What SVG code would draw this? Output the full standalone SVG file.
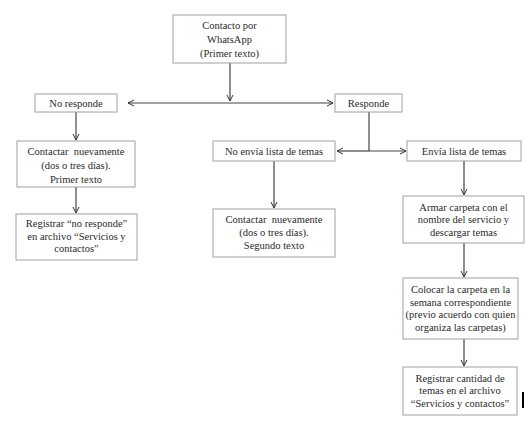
<svg xmlns="http://www.w3.org/2000/svg" width="531" height="430" viewBox="0 0 531 430">
<defs>
<marker id="ah" markerWidth="8" markerHeight="8" refX="7" refY="4" orient="auto" markerUnits="userSpaceOnUse">
<path d="M1,1 L7,4 L1,7" fill="none" stroke="#333" stroke-width="1"/>
</marker>
<style>
.box{fill:#fff;stroke:#a0a0a0;stroke-width:1}
.t{font-family:'Liberation Serif','Times New Roman',Times,serif;font-size:10.5px;fill:#2a2a2a;text-anchor:middle}
.c{fill:none;stroke:#444;stroke-width:1.2}
</style>
</defs>
<rect width="531" height="430" fill="#fff"/>
<g id="connectors">
<line class="c" x1="230" y1="63" x2="230" y2="101" marker-end="url(#ah)"/>
<line class="c" x1="230" y1="103" x2="128" y2="103" marker-end="url(#ah)"/>
<line class="c" x1="230" y1="103" x2="333" y2="103" marker-end="url(#ah)"/>
<line class="c" x1="76" y1="112" x2="76" y2="140" marker-end="url(#ah)"/>
<line class="c" x1="76" y1="187" x2="76" y2="213" marker-end="url(#ah)"/>
<line class="c" x1="369" y1="112" x2="369" y2="151"/>
<line class="c" x1="369" y1="151" x2="337" y2="151" marker-end="url(#ah)"/>
<line class="c" x1="369" y1="151" x2="406" y2="151" marker-end="url(#ah)"/>
<line class="c" x1="274" y1="161" x2="274" y2="208" marker-end="url(#ah)"/>
<line class="c" x1="464" y1="161" x2="464" y2="195" marker-end="url(#ah)"/>
<line class="c" x1="464" y1="243" x2="464" y2="277" marker-end="url(#ah)"/>
<line class="c" x1="464" y1="339" x2="464" y2="366" marker-end="url(#ah)"/>
</g>
<g id="contacto">
<rect class="box" x="173" y="15" width="113" height="48"/>
<text class="t" x="229.5" y="29">Contacto por</text>
<text class="t" x="229.5" y="43">WhatsApp</text>
<text class="t" x="229.5" y="57">(Primer texto)</text>
</g>
<g id="no-responde">
<rect class="box" x="35" y="94" width="82" height="18"/>
<text class="t" x="76" y="107">No responde</text>
</g>
<g id="responde">
<rect class="box" x="335" y="94" width="67" height="18"/>
<text class="t" x="368.5" y="107">Responde</text>
</g>
<g id="contactar1">
<rect class="box" x="17" y="141" width="118" height="46"/>
<text class="t" x="76" y="155" xml:space="preserve">Contactar  nuevamente</text>
<text class="t" x="76" y="169">(dos o tres días).</text>
<text class="t" x="76" y="183">Primer texto</text>
</g>
<g id="registrar1">
<rect class="box" x="16" y="214" width="121" height="46"/>
<text class="t" x="76.5" y="227">Registrar “no responde”</text>
<text class="t" x="76.5" y="240">en archivo “Servicios y</text>
<text class="t" x="76.5" y="252">contactos”</text>
</g>
<g id="no-envia">
<rect class="box" x="213" y="141" width="122" height="20"/>
<text class="t" x="274" y="155">No envía lista de temas</text>
</g>
<g id="envia">
<rect class="box" x="407" y="141" width="114" height="20"/>
<text class="t" x="464" y="155">Envía lista de temas</text>
</g>
<g id="contactar2">
<rect class="box" x="213" y="209" width="122" height="48"/>
<text class="t" x="274" y="223" xml:space="preserve">Contactar  nuevamente</text>
<text class="t" x="274" y="236">(dos o tres días).</text>
<text class="t" x="274" y="249">Segundo texto</text>
</g>
<g id="armar">
<rect class="box" x="403" y="196" width="121" height="47"/>
<text class="t" x="463.5" y="211">Armar carpeta con el</text>
<text class="t" x="463.5" y="223">nombre del servicio y</text>
<text class="t" x="463.5" y="236">descargar temas</text>
</g>
<g id="colocar">
<rect class="box" x="403" y="278" width="115" height="61"/>
<text class="t" x="460.5" y="293">Colocar la carpeta en la</text>
<text class="t" x="460.5" y="306">semana correspondiente</text>
<text class="t" x="460.5" y="318">(previo acuerdo con quien</text>
<text class="t" x="460.5" y="331">organiza las carpetas)</text>
</g>
<g id="registrar2">
<rect class="box" x="403" y="367" width="114" height="48"/>
<text class="t" x="460" y="382">Registrar cantidad de</text>
<text class="t" x="460" y="394">temas en el archivo</text>
<text class="t" x="460" y="407">“Servicios y contactos”</text>
</g>
<rect x="522" y="392" width="2" height="16" fill="#000"/>
</svg>
